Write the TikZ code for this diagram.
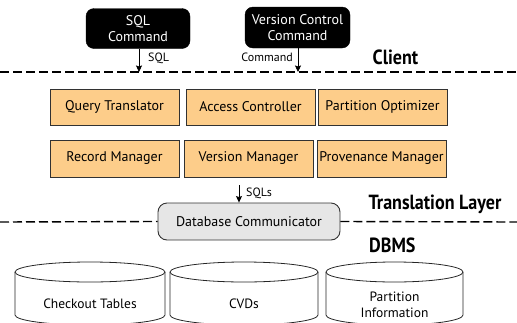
\documentclass[tikz,border=0pt]{standalone}
\usepackage{fontspec}
\setmainfont{PT Sans}
\usetikzlibrary{arrows.meta}
\definecolor{boxorange}{RGB}{253,205,138}
\definecolor{boxedge}{RGB}{50,50,50}
\definecolor{commfill}{RGB}{230,230,230}
\newcommand{\layerlabel}[1]{\scalebox{0.88}[1]{\bfseries #1}}
\tikzset{
  cmdbox/.style={draw=black, fill=black, text=white, rounded corners=8pt, align=center,
    inner sep=0pt, font=\fontsize{14}{16.5}\selectfont},
  modbox/.style={draw=boxedge, line width=0.9pt, fill=boxorange, inner sep=0pt,
    minimum width=129pt, font=\fontsize{14}{16}\selectfont},
  dbcbox/.style={draw=boxedge, line width=0.9pt, fill=commfill, rounded corners=9pt,
    inner sep=0pt, font=\fontsize{14}{16}\selectfont},
  arr/.style={line width=0.8pt, -{Stealth[length=6.5pt,width=6pt,inset=1pt]}},
  sep/.style={line width=1.4pt, dash pattern=on 9pt off 4pt},
  small/.style={font=\fontsize{12}{14}\selectfont, inner sep=0pt},
  layer/.style={font=\fontsize{20.5}{22}\selectfont, inner sep=0pt},
  cyl/.style={line width=0.8pt, draw=black!85},
  cyltext/.style={font=\fontsize{13.5}{16.5}\selectfont, align=center, inner sep=0pt},
}
\begin{document}
\begin{tikzpicture}[x=1pt,y=-1pt]
\useasboundingbox (0,0) rectangle (517,322);
\clip (0,0) rectangle (517,322);

% client commands
\node[cmdbox, minimum width=104pt, minimum height=40pt] (sql) at (138,28.5) {SQL\\Command};
\node[cmdbox, minimum width=105pt, minimum height=41pt] (vcc) at (297.5,27.5) {Version Control\\Command};

% client / translation layer boundary
\coordinate (cl0) at (0,72);
\coordinate (cl1) at (517,72);
\draw[sep] (cl0) -- (cl1);
\coordinate (sqlin) at (139,72);
\coordinate (vccin) at (298,72);
\draw[arr] (sqlin |- sql.south) -- (sqlin);
\draw[arr] (vccin |- vcc.south) -- (vccin);
\node[small, anchor=west] (sqllab) at (148,58) {SQL};
\node[small, anchor=east] (cmdlab) at (293,57) {Command};
\node[layer] (client) at (395.5,57) {\layerlabel{Client}};

% translation layer modules
\node[modbox, minimum height=36pt] (qt) at (114.5,107) {Query Translator};
\node[modbox, minimum height=36pt] (ac) at (250.5,107) {Access Controller};
\node[modbox, minimum height=36pt] (po) at (382.5,107) {Partition Optimizer};
\node[modbox, minimum height=37pt] (rm) at (114.5,158.5) {Record Manager};
\node[modbox, minimum height=37pt] (vm) at (248.5,158.5) {Version Manager};
\node[modbox, minimum height=37pt] (pm) at (381.5,158.5) {Provenance Manager};

% database communicator on the translation layer / DBMS boundary
\node[dbcbox, minimum width=182pt, minimum height=37pt] (dbc) at (249,221.5) {Database Communicator};
\coordinate (tl0) at (0,222);
\coordinate (tl1) at (517,222);
\draw[sep] (tl0) -- (dbc.west);
\draw[sep] (dbc.east) -- (tl1);
\coordinate (sqlsin) at (239,185);
\draw[arr] (sqlsin) -- (sqlsin |- dbc.north);
\node[small, anchor=west] (sqlslab) at (246,193) {SQLs};
\node[layer] (tlayer) at (435,204) {\layerlabel{Translation Layer}};
\node[layer, anchor=west] (dbms) at (369,245) {\layerlabel{DBMS}};

% DBMS storage
\foreach \l/\r/\n in {15/165/ct, 170/318/cvd, 326/463/pi}{
  \pgfmathsetmacro{\cx}{(\l+\r)/2}
  \pgfmathsetmacro{\rx}{(\r-\l)/2}
  \draw[cyl] (\cx,272) ellipse [x radius=\rx, y radius=10];
  \draw[cyl] (\l,272) -- (\l,315) arc[start angle=180, end angle=0, x radius=\rx, y radius=10] -- (\r,272);
  \coordinate (\n) at (\cx,304);
}
\node[cyltext] (cttext) at (ct) {Checkout Tables};
\node[cyltext] (cvdtext) at (cvd) {CVDs};
\node[cyltext] (pitext) at ([yshift=-1pt]pi) {Partition\\Information};
\end{tikzpicture}
\end{document}
